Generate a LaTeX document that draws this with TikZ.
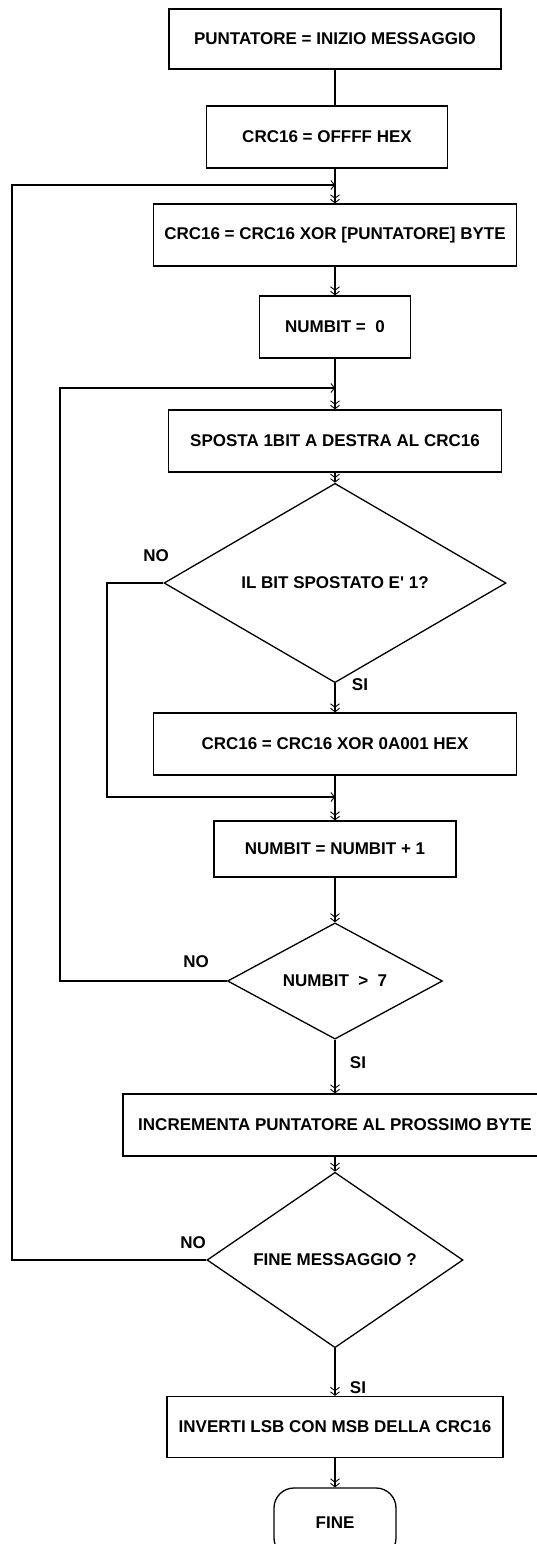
\documentclass[tikz,border=0pt]{standalone}
\usepackage{fontspec}
\setmainfont{Liberation Sans}
\usetikzlibrary{shapes.geometric,arrows.meta}

\begin{document}
\begin{tikzpicture}[x=1pt, y=-1pt, line width=1.3pt,
    every node/.style={font=\fontsize{17}{20}\selectfont\bfseries},
    box/.style={draw, rectangle, inner sep=0pt, minimum height=62pt},
    decision/.style={draw, diamond, inner sep=0pt},
    term/.style={draw, rectangle, rounded corners=20pt, minimum width=122pt, minimum height=70pt},
    dbl/.style={-{Straight Barb[length=3.5pt,width=9pt,line width=0.9pt] Straight Barb[length=3.5pt,width=9pt,line width=0.9pt]}},
    sgl/.style={-{Straight Barb[length=3.5pt,width=9pt,line width=0.9pt]}}]
    \useasboundingbox (0,0) rectangle (536,1544);
    % Start
    \node[box, minimum width=332pt, minimum height=60pt] (Pt) at (335,39) {PUNTATORE = INIZIO MESSAGGIO};
    \node[box, minimum width=241pt] (Cr) at (327,137) {CRC16 = OFFFF HEX};
    % Byte loop
    \coordinate (j1) at (335,185);
    \node[box, minimum width=363pt] (Xb) at (335,235) {CRC16 = CRC16 XOR [PUNTATORE] BYTE};
    \node[box, minimum width=151pt] (Nb) at (335,327) {NUMBIT =\ \ 0};
    % Bit loop
    \coordinate (j2) at (335,388);
    \node[box, minimum width=333pt] (Sh) at (335,441) {SPOSTA 1BIT A DESTRA AL CRC16};
    \node[decision, minimum width=342pt, minimum height=171pt] (Tb) at (335,583) {IL BIT SPOSTATO E\textquotesingle\ 1?};
    \node[box, minimum width=363pt] (Xa) at (335,744) {CRC16 = CRC16 XOR 0A001 HEX};
    \coordinate (j3) at (335,797);
    \node[box, minimum width=242pt, minimum height=56pt] (Inc) at (335,849) {NUMBIT = NUMBIT + 1};
    \node[decision, minimum width=215pt, minimum height=110pt] (Tn) at (335,981) {NUMBIT\ \ >\ \ 7};
    % Message loop
    \node[box, minimum width=424pt] (Nx) at (335,1125) {INCREMENTA PUNTATORE AL PROSSIMO BYTE};
    \node[decision, minimum width=256pt, minimum height=126pt] (Tm) at (335,1260) {FINE MESSAGGIO ?};
    % End
    \node[box, minimum width=336pt, minimum height=61pt] (Sw) at (335,1427) {INVERTI LSB CON MSB DELLA CRC16};
    \node[term] (Fi) at (335,1523) {FINE};
    % Branch labels
    \node (no1) at (156,556) {NO};
    \node (si1) at (360,685) {SI};
    \node (no2) at (196,962) {NO};
    \node (si2) at (358,1063) {SI};
    \node (no3) at (193,1243) {NO};
    \node (si3) at (358,1388) {SI};
    % Loop corners
    \coordinate (l1) at (12,185);
    \coordinate (l2) at (60,388);
    \coordinate (l3) at (107,797);
    % Main flow
    \draw (Pt.south) -- (Pt.south |- Cr.north);
    \draw (Cr.south -| j1) -- (j1);
    \draw[dbl] (j1) -- (Xb);
    \draw[dbl] (Xb) -- (Nb);
    \draw (Nb) -- (j2);
    \draw[dbl] (j2) -- (Sh);
    \draw[dbl] (Sh) -- (Tb);
    \draw[dbl] (Tb) -- (Xa);
    \draw (Xa) -- (j3);
    \draw[dbl] (j3) -- (Inc);
    \draw[dbl] (Inc) -- (Tn);
    \draw[dbl] (Tn) -- (Nx);
    \draw[dbl] (Nx) -- (Tm);
    \draw[dbl] (Tm) -- (Sw);
    \draw[dbl] (Sw) -- (Fi);
    % NO branches
    \draw[sgl] (Tb.west) -| (l3) -- (j3);
    \draw[sgl] (Tn.west) -| (l2) -- (j2);
    \draw[sgl] (Tm.west) -| (l1) -- (j1);
\end{tikzpicture}
\end{document}
